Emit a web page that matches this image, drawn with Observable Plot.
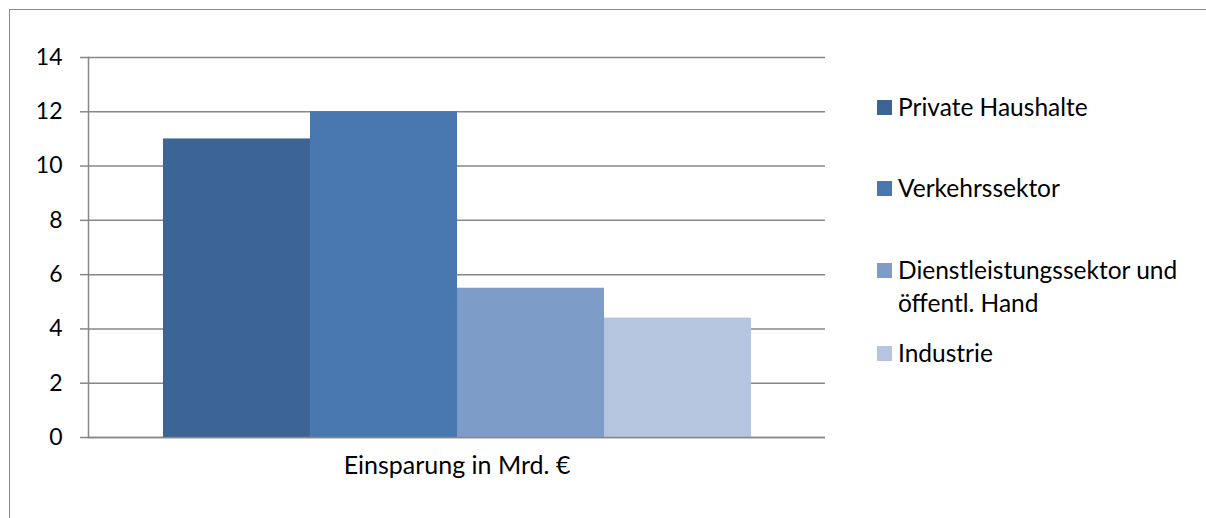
<!DOCTYPE html>
<html>
<head>
<meta charset="utf-8">
<script src="https://cdn.jsdelivr.net/npm/d3@7"></script>
<script src="https://cdn.jsdelivr.net/npm/@observablehq/plot@0.6"></script>
<style>
  html, body { margin: 0; padding: 0; background: #fff; overflow: hidden; font-family: Lato, "Open Sans", sans-serif; }
  #clip { position: relative; width: 1206px; height: 518px; overflow: hidden; }
  #frame { position: absolute; left: 9px; top: 9px; width: 1400px; height: 700px; border: 1.5px solid #8c8c8c; box-sizing: border-box; }
  #chart { position: absolute; left: 0; top: 0; }
  #legend { position: absolute; left: 877px; top: 0; font-family: Lato, sans-serif; font-size: 24.5px; color: #000; }
  .item { position: absolute; left: 0; display: flex; align-items: flex-start; white-space: nowrap; line-height: 33px; }
  .sw { width: 15px; height: 15px; margin-top: 10px; margin-right: 6px; flex: none; }
</style>
</head>
<body>
<div id="clip">
<div id="frame"></div>
<div id="chart"></div>
<div id="legend"></div>
</div>
<script>
const categories = ["Einsparung in Mrd. €"];
const series = ["Private Haushalte", "Verkehrssektor", "Dienstleistungssektor und öffentl. Hand", "Industrie"];
const legendLabels = [["Private Haushalte"], ["Verkehrssektor"], ["Dienstleistungssektor und", "öffentl. Hand"], ["Industrie"]];
const values = [11, 12, 5.5, 4.4];
const colors = ["#3c6494", "#4878af", "#7e9cc8", "#b5c4df"];
const yTicks = [0, 2, 4, 6, 8, 10, 12, 14];

const data = series.map((s, i) => ({series: s, value: values[i], category: categories[0]}));

const plot = Plot.plot({
  width: 840,
  height: 500,
  marginLeft: 88,
  marginRight: 15,
  marginTop: 57,
  marginBottom: 63,
  style: {fontFamily: "Lato, sans-serif", fontSize: "23px", color: "#000", background: "transparent"},
  x: {domain: series, paddingInner: 0, paddingOuter: 0.49, axis: null},
  y: {domain: [0, 14], ticks: yTicks},
  color: {domain: series, range: colors},
  marks: [
    Plot.gridY(yTicks, {stroke: "#878787", strokeOpacity: 1, strokeWidth: 1.5}),
    Plot.axisY(yTicks, {tickSize: 8, tickPadding: 18, stroke: "#878787", strokeWidth: 1.5, label: null, fill: "#000", fontSize: 23}),
    Plot.barY(data, {x: "series", y: "value", fill: "series", insetLeft: 0, insetRight: 0}),
    Plot.ruleY([0], {stroke: "#878787", strokeWidth: 1.5}),
    Plot.frame({anchor: "left", stroke: "#878787", strokeWidth: 1.5}),
    Plot.text(categories, {text: d => d, frameAnchor: "bottom", dy: 36, fill: "#000", fontSize: 25})
  ]
});
document.getElementById("chart").appendChild(plot);

const legend = document.getElementById("legend");
const centers = [106, 187, 269, 352];
legendLabels.forEach((lines, i) => {
  const item = document.createElement("div");
  item.className = "item";
  item.style.top = (centers[i] - 16.5) + "px";
  const sw = document.createElement("div");
  sw.className = "sw";
  sw.style.background = colors[i];
  const txt = document.createElement("div");
  txt.innerHTML = lines.join("<br>");
  item.appendChild(sw);
  item.appendChild(txt);
  legend.appendChild(item);
});
</script>
</body>
</html>
